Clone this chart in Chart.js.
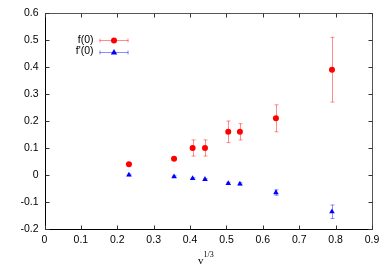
<!DOCTYPE html>
<html>
<head>
<meta charset="utf-8">
<script src="https://cdn.jsdelivr.net/npm/chart.js@4.4.1/dist/chart.umd.min.js"></script>
<style>
  html, body { margin: 0; padding: 0; background: #fff; }
  #wrap { width: 390px; height: 273px; position: relative; }
</style>
</head>
<body>
<div id="wrap"><canvas id="c"></canvas></div>
<script>
// data
const xVals = [0.232, 0.356, 0.407, 0.441, 0.505, 0.537, 0.636, 0.790];
const f0 = [0.04, 0.06, 0.10, 0.10, 0.16, 0.16, 0.21, 0.39];
const f0Err = [0.004, 0.004, 0.03, 0.03, 0.04, 0.03, 0.05, 0.12];
const fp0 = [0.0, -0.006, -0.013, -0.016, -0.031, -0.033, -0.065, -0.136];
const fp0Err = [0.003, 0.003, 0.003, 0.003, 0.004, 0.004, 0.01, 0.025];
const xTicks = [0, 0.1, 0.2, 0.3, 0.4, 0.5, 0.6, 0.7, 0.8, 0.9];
const yTicks = [-0.2, -0.1, 0, 0.1, 0.2, 0.3, 0.4, 0.5, 0.6];
const seriesNames = ['f(0)', "f'(0)"];

const RED = '#ff0000', RED_BAR = 'rgba(255,0,0,0.45)';
const BLUE = '#0000ff', BLUE_BAR = 'rgba(0,0,255,0.45)';
const FAMILY = '"Liberation Sans", Arial, sans-serif';
const FONT = '10.5px ' + FAMILY;

function pts(ys, errs) {
  return xVals.map((x, i) => ({ x: x, y: ys[i], e: errs[i] }));
}

// error bars, frame, inward ticks, legend, axis title
const gnuplotLook = {
  id: 'gnuplotLook',
  beforeDatasetsDraw(chart) {
    const ctx = chart.ctx;
    const xs = chart.scales.x, ys = chart.scales.y;
    ctx.save();
    ctx.lineWidth = 1;
    chart.data.datasets.forEach((ds) => {
      ctx.strokeStyle = ds.barColor;
      ds.data.forEach((p) => {
        const px = Math.round(xs.getPixelForValue(p.x)) + 0.5;
        const top = ys.getPixelForValue(p.y + p.e);
        const bot = ys.getPixelForValue(p.y - p.e);
        ctx.beginPath();
        ctx.moveTo(px, top); ctx.lineTo(px, bot);
        ctx.moveTo(px - 2, top); ctx.lineTo(px + 2, top);
        ctx.moveTo(px - 2, bot); ctx.lineTo(px + 2, bot);
        ctx.stroke();
      });
    });
    ctx.restore();
  },
  afterDraw(chart) {
    const ctx = chart.ctx;
    const a = chart.chartArea;
    const xs = chart.scales.x, ys = chart.scales.y;
    ctx.save();
    ctx.lineWidth = 1;
    const L = Math.round(a.left) + 0.5, R = Math.round(a.right) + 0.5;
    const T = Math.round(a.top) + 0.5, B = Math.round(a.bottom) + 0.5;
    // top / right a bit lighter, like the reference
    ctx.strokeStyle = '#555';
    ctx.beginPath();
    ctx.moveTo(L, T); ctx.lineTo(R, T); ctx.lineTo(R, B);
    ctx.stroke();
    ctx.strokeStyle = '#000';
    ctx.beginPath();
    ctx.moveTo(L, T); ctx.lineTo(L, B); ctx.lineTo(R, B);
    ctx.stroke();
    // inward ticks on all four sides
    ctx.strokeStyle = '#333';
    ctx.beginPath();
    xTicks.forEach((v) => {
      const px = Math.round(xs.getPixelForValue(v)) + 0.5;
      ctx.moveTo(px, B); ctx.lineTo(px, B - 4);
      ctx.moveTo(px, T); ctx.lineTo(px, T + 4);
    });
    yTicks.forEach((v) => {
      const py = Math.round(ys.getPixelForValue(v)) + 0.5;
      ctx.moveTo(L, py); ctx.lineTo(L + 4, py);
      ctx.moveTo(R, py); ctx.lineTo(R - 4, py);
    });
    ctx.stroke();

    // legend
    ctx.font = FONT;
    ctx.textAlign = 'right';
    ctx.textBaseline = 'middle';
    const legX0 = a.left + 55, legX1 = a.left + 84, legMid = a.left + 69.5;
    chart.data.datasets.forEach((ds, i) => {
      const ly = a.top + 27 + i * 11.5;
      ctx.fillStyle = '#000';
      ctx.fillText(seriesNames[i], a.left + 49, ly);
      const yy = Math.round(ly) + 0.5;
      ctx.strokeStyle = ds.barColor;
      ctx.beginPath();
      ctx.moveTo(legX0, yy); ctx.lineTo(legX1, yy);
      ctx.moveTo(legX0 + 0.5, yy - 2); ctx.lineTo(legX0 + 0.5, yy + 2);
      ctx.moveTo(legX1 - 0.5, yy - 2); ctx.lineTo(legX1 - 0.5, yy + 2);
      ctx.stroke();
      ctx.fillStyle = ds.backgroundColor;
      ctx.beginPath();
      if (ds.pointStyle === 'triangle') {
        ctx.moveTo(legMid, yy - 3.5);
        ctx.lineTo(legMid + 3.2, yy + 2);
        ctx.lineTo(legMid - 3.2, yy + 2);
        ctx.closePath();
      } else {
        ctx.arc(legMid, yy, 3, 0, Math.PI * 2);
      }
      ctx.fill();
    });

    // axis title v^{1/3}
    ctx.fillStyle = '#000';
    ctx.textAlign = 'left';
    ctx.textBaseline = 'alphabetic';
    ctx.font = '11px "Liberation Serif", serif';
    ctx.fillText('v', 198, 264);
    ctx.font = '8px "Liberation Serif", serif';
    ctx.fillText('1/3', 203.5, 257);
    ctx.restore();
  }
};

new Chart(document.getElementById('c'), {
  type: 'scatter',
  data: {
    datasets: [
      {
        label: seriesNames[0],
        data: pts(f0, f0Err),
        pointStyle: 'circle',
        pointRadius: 3,
        backgroundColor: RED,
        borderColor: RED,
        borderWidth: 0,
        barColor: RED_BAR
      },
      {
        label: seriesNames[1],
        data: pts(fp0, fp0Err),
        pointStyle: 'triangle',
        pointRadius: 3.2,
        backgroundColor: BLUE,
        borderColor: BLUE,
        borderWidth: 0,
        barColor: BLUE_BAR
      }
    ]
  },
  options: {
    responsive: true,
    maintainAspectRatio: false,
    animation: false,
    layout: { padding: { top: 13, right: 18, left: 0, bottom: 0 } },
    plugins: { legend: { display: false }, tooltip: { enabled: false } },
    scales: {
      x: {
        type: 'linear',
        min: 0, max: 0.9,
        afterFit: (s) => { s.height = 44; },
        afterBuildTicks: (s) => { s.ticks = xTicks.map((v) => ({ value: v })); },
        grid: { display: false, drawTicks: false },
        border: { display: false },
        ticks: {
          color: '#000',
          font: { family: FAMILY, size: 10.5 },
          padding: 5,
          maxRotation: 0,
          callback: (v) => String(Math.round(v * 10) / 10)
        }
      },
      y: {
        type: 'linear',
        min: -0.2, max: 0.6,
        afterFit: (s) => { s.width = 44.5; },
        afterBuildTicks: (s) => { s.ticks = yTicks.map((v) => ({ value: v })); },
        grid: { display: false, drawTicks: false },
        border: { display: false },
        ticks: {
          color: '#000',
          font: { family: FAMILY, size: 10.5 },
          padding: 6,
          callback: (v) => String(Math.round(v * 10) / 10)
        }
      }
    }
  },
  plugins: [gnuplotLook]
});
</script>
</body>
</html>
